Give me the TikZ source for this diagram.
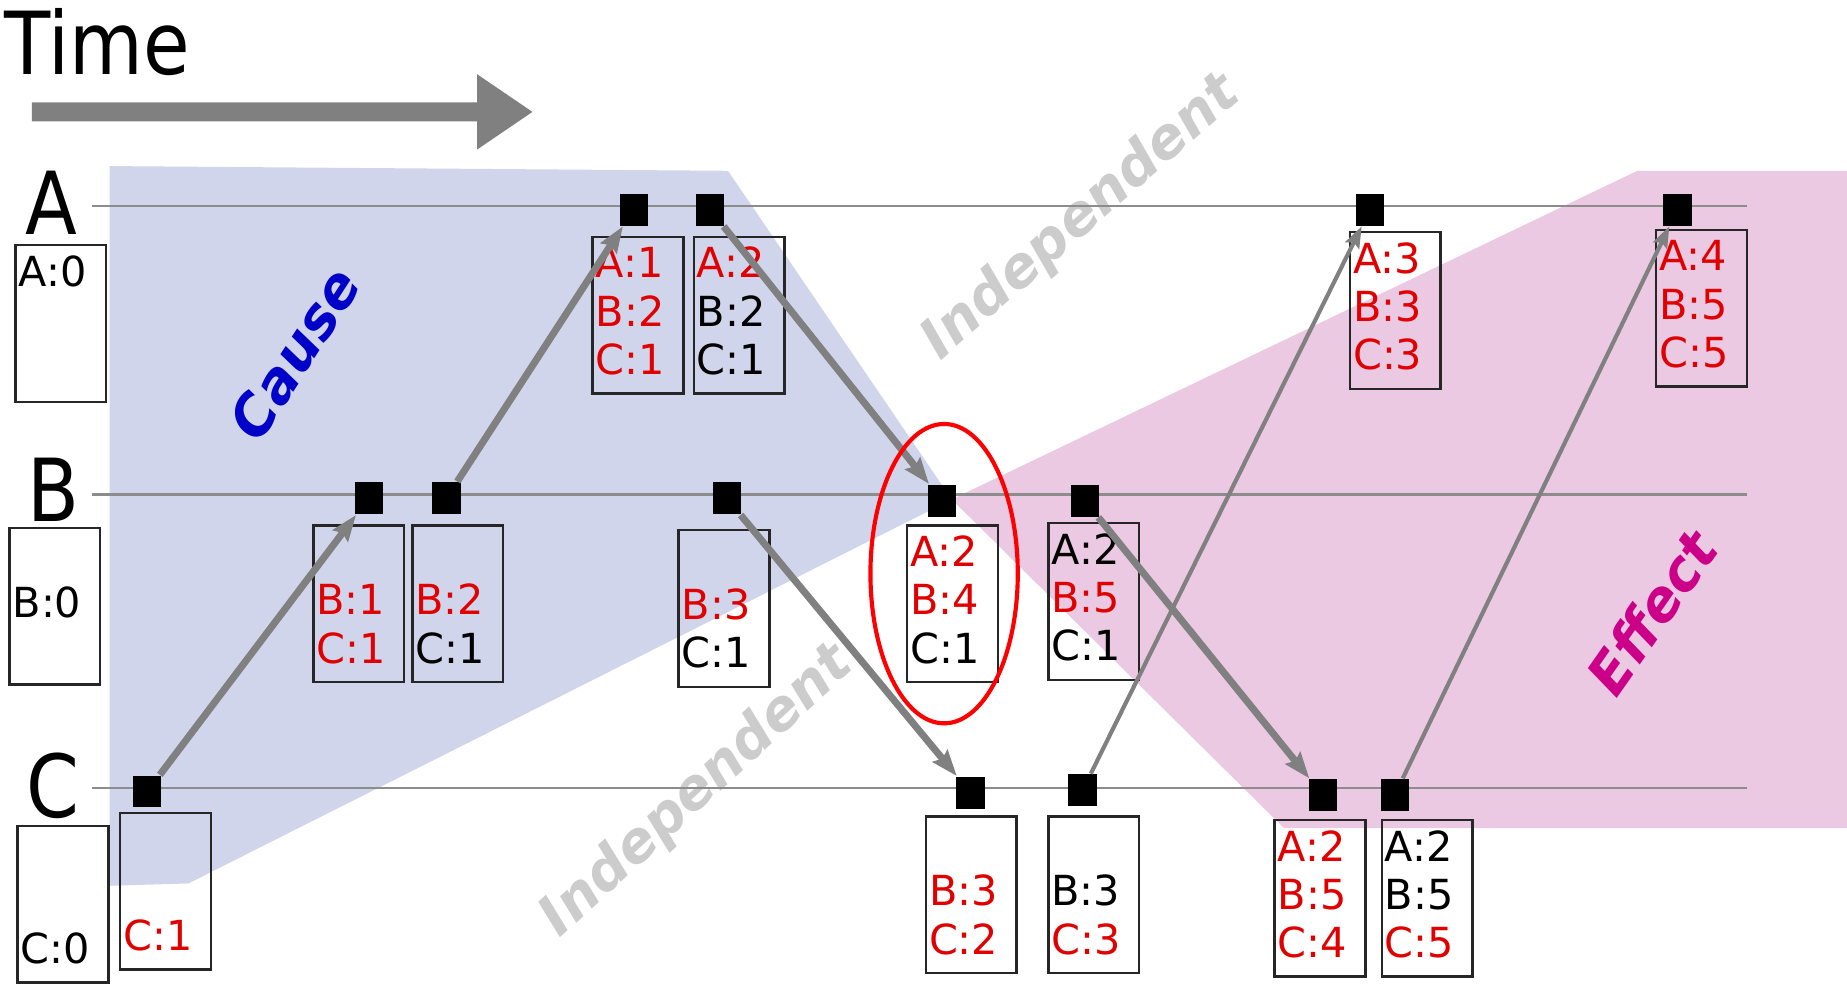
\documentclass[tikz,border=0pt]{standalone}
\usepackage{fontspec}
\setmainfont{DejaVu Sans}
\usetikzlibrary{arrows.meta,shapes.geometric,calc}
\definecolor{causeblue}{HTML}{D0D5EB}
\definecolor{effectpink}{HTML}{EBC9E2}
\definecolor{vred}{HTML}{E00000}
\definecolor{causetext}{HTML}{0000C8}
\definecolor{effecttext}{HTML}{CC0088}
\definecolor{conngray}{HTML}{808080}
\newcommand{\R}[1]{\textcolor{vred}{#1}}
\newcommand{\clockbox}[6]{%
  \node[cbox] (#1) at (#2,#3) {};
  \node[ctext] (#1-1) at ($(#1.north west)+(3,36)$) {#4};
  \node[ctext] (#1-2) at ($(#1.north west)+(3,77)$) {#5};
  \node[ctext] (#1-3) at ($(#1.north west)+(3,118)$) {#6};
}
\begin{document}
\begin{tikzpicture}[x=0.01cm,y=-0.01cm,
  cbox/.style={draw=black!85, line width=0.6pt, minimum width=0.77cm, minimum height=1.33cm, inner sep=0pt, anchor=north west},
  ctext/.style={anchor=base west, inner sep=0pt, font=\fontsize{10}{12}\selectfont},
  ev/.style={fill=black, minimum width=0.24cm, minimum height=0.27cm, inner sep=0pt},
  tline/.style={draw=gray!90, line width=0.6pt},
  conn/.style={draw=conngray, line width=1.7pt, -{Stealth[length=0.22cm, width=0.16cm, inset=0.03cm]}},
  connthin/.style={draw=conngray, line width=1.0pt, -{Stealth[length=0.18cm, width=0.13cm, inset=0.03cm]}},
  big/.style={font=\fontsize{21}{24}\selectfont, inner sep=0pt},
  diag/.style={font=\fontsize{13.5}{16}\selectfont\bfseries\itshape, inner sep=0pt}
]
\useasboundingbox (0,0) rectangle (1568,837);

% light cones
\fill[causeblue] (93,141) -- (618,145) -- (808,424) -- (160,750) -- (93,752) -- cycle;
\fill[effectpink] (808,424) -- (1390,145) -- (1568,145) -- (1568,703) -- (1090,703) -- cycle;

% diagonal labels
\node[diag, text=gray!40, rotate=41] (ind1) at (918,185) {Independent};
\node[diag, text=gray!40, rotate=42.5] (ind2) at (592,672) {Independent};
\node[diag, text=causetext, rotate=57] (cause) at (250,300) {Cause};
\node[diag, text=effecttext, rotate=55] (effect) at (1402,520) {Effect};

% time
\node[big, anchor=base west] (time) at (3,63) {\scalebox{0.87}[1]{Time}};
\fill[conngray] (27,87) -- (405,87) -- (405,63) -- (452,95) -- (405,127) -- (405,103) -- (27,103) -- cycle;

% process lines
\coordinate (lA0) at (78,175); \coordinate (lA1) at (1483,175);
\coordinate (lB0) at (78,420); \coordinate (lB1) at (1483,420);
\coordinate (lC0) at (78,669); \coordinate (lC1) at (1483,669);
\draw[tline] (lA0) -- (lA1);
\draw[tline] (lB0) -- (lB1);
\draw[tline] (lC0) -- (lC1);
\node[big, anchor=base] (labA) at (44,199) {\scalebox{0.87}[1]{A}};
\node[big, anchor=base] (labB) at (45,443) {\scalebox{0.87}[1]{B}};
\node[big, anchor=base] (labC) at (45,694) {\scalebox{0.87}[1]{C}};

% clocks
\clockbox{a0}{12}{207}{A:0}{}{}
\clockbox{b0}{7}{447}{}{B:0}{}
\clockbox{c0}{14}{700}{}{}{C:0}
\clockbox{A1}{502}{200}{\R{A:1}}{\R{B:2}}{\R{C:1}}
\clockbox{A2}{588}{200}{\R{A:2}}{B:2}{C:1}
\clockbox{A3}{1145}{196}{\R{A:3}}{\R{B:3}}{\R{C:3}}
\clockbox{A4}{1405}{194}{\R{A:4}}{\R{B:5}}{\R{C:5}}
\clockbox{B1}{265}{445}{}{\R{B:1}}{\R{C:1}}
\clockbox{B2}{349}{445}{}{\R{B:2}}{C:1}
\clockbox{B3}{575}{449}{}{\R{B:3}}{C:1}
\clockbox{B4}{769}{445}{\R{A:2}}{\R{B:4}}{C:1}
\clockbox{B5}{889}{443}{A:2}{\R{B:5}}{C:1}
\clockbox{C1}{101}{689}{}{}{\R{C:1}}
\clockbox{C2}{785}{692}{}{\R{B:3}}{\R{C:2}}
\clockbox{C3}{889}{692}{}{B:3}{\R{C:3}}
\clockbox{C4}{1081}{695}{\R{A:2}}{\R{B:5}}{\R{C:4}}
\clockbox{C5}{1172}{695}{A:2}{B:5}{\R{C:5}}

% events
\node[ev] (ea1) at (538,178) {};
\node[ev] (ea2) at (603,178) {};
\node[ev] (ea3) at (1163,178) {};
\node[ev] (ea4) at (1424,178) {};
\node[ev] (eb1) at (313,423) {};
\node[ev] (eb2) at (379,423) {};
\node[ev] (eb3) at (617,423) {};
\node[ev] (eb4) at (800,425) {};
\node[ev] (eb5) at (921,425) {};
\node[ev] (ec1) at (125,672) {};
\node[ev] (ec2) at (824,673) {};
\node[ev] (ec3) at (919,671) {};
\node[ev] (ec4) at (1123,675) {};
\node[ev] (ec5) at (1184,675) {};

% messages
\draw[conn] (ec1) -- (eb1);
\draw[conn] (eb2) -- (ea1);
\draw[conn] (ea2) -- (eb4);
\draw[conn] (eb3) -- (ec2);
\draw[connthin] (ec3) -- (ea3);
\draw[conn] (eb5) -- (ec4);
\draw[connthin] (ec5) -- (ea4);

% focus
\node[draw=red, line width=1pt, ellipse, minimum width=1.25cm, minimum height=2.54cm, inner sep=0pt] (focus) at (801.5,487) {};
\end{tikzpicture}
\end{document}
